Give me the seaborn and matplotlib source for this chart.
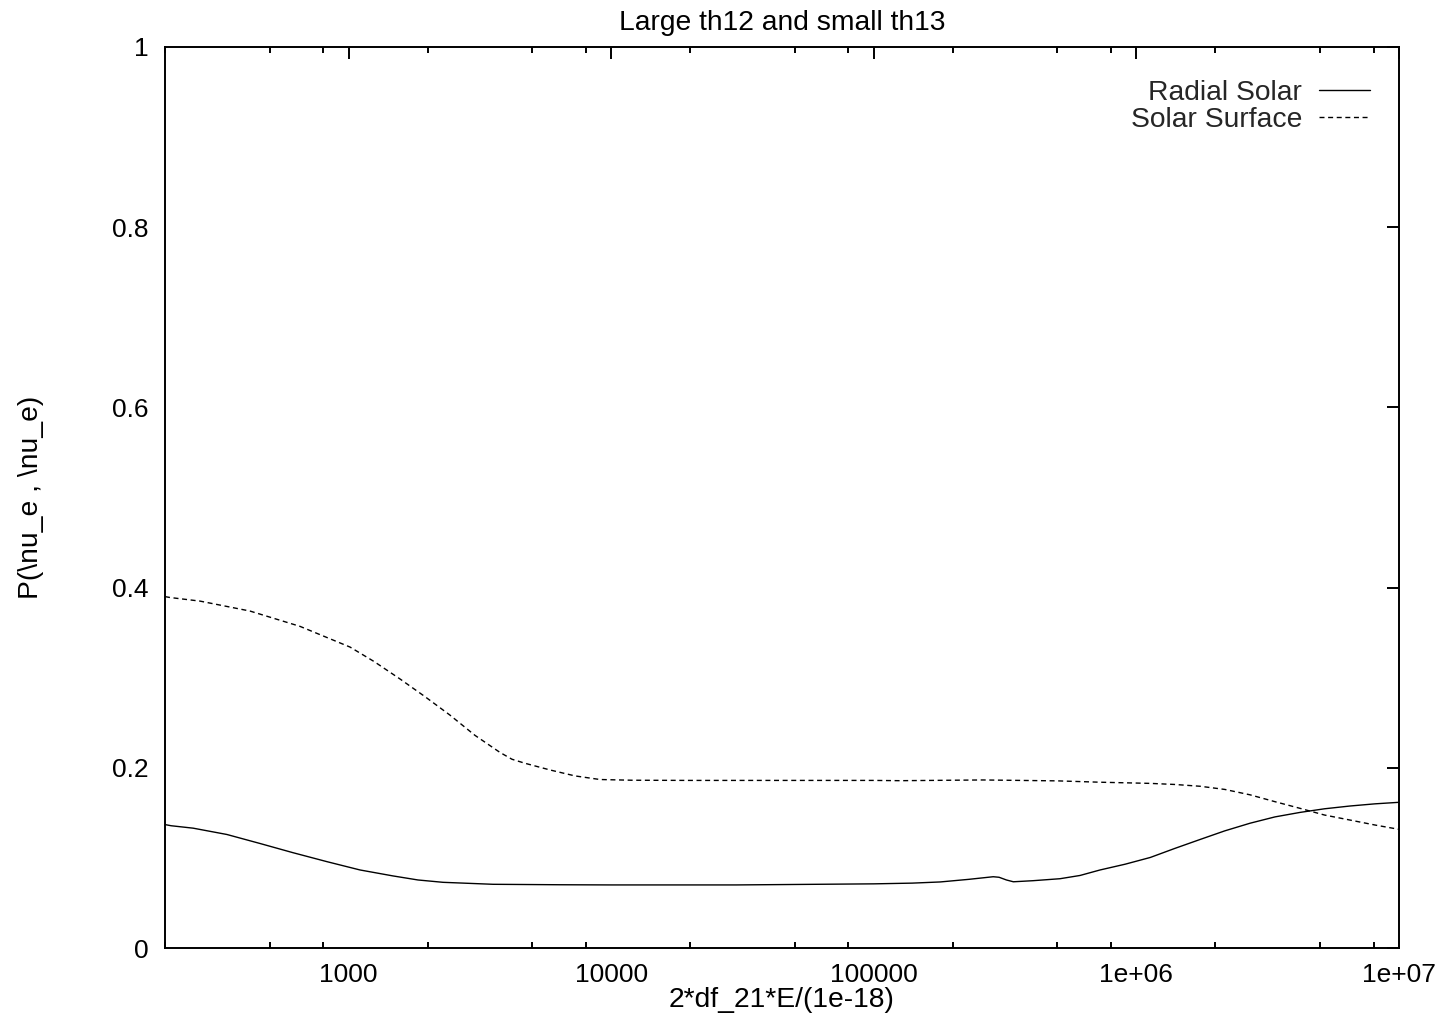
import matplotlib
matplotlib.use("Agg")
import matplotlib.pyplot as plt
import matplotlib.ticker as mticker
import seaborn as sns

# ---- data ----
x_radial = [200, 211, 256, 344, 460, 614, 828, 1000, 1106, 1476, 1838, 2290, 3550,
            6380, 10000, 30000, 100000, 140000, 179000, 230000, 285000, 300000,
            320000, 340000, 404000, 512000, 610000, 727000, 906000, 1130000,
            1400000, 1750000, 2170000, 2710000, 3370000, 4200000, 5200000,
            6510000, 8100000, 10000000]
p_radial = [0.137, 0.1357, 0.133, 0.126, 0.116, 0.1058, 0.0958, 0.0898, 0.0866,
            0.080, 0.0755, 0.0729, 0.0707, 0.0702, 0.0700, 0.0700, 0.0712, 0.0720,
            0.0733, 0.0762, 0.0791, 0.0785, 0.0755, 0.0735, 0.0747, 0.0769, 0.0805,
            0.0866, 0.0930, 0.1005, 0.1105, 0.1205, 0.1300, 0.1385, 0.1455, 0.1505,
            0.1545, 0.1576, 0.160, 0.1617]

x_surface = [200, 209, 272, 421, 653, 1013, 1250, 1570, 1954, 2430, 3030, 3775,
             4190, 4700, 5850, 7280, 9060, 12000, 20000, 100000, 126000, 260000,
             500000, 727000, 1130000, 1400000, 1750000, 2170000, 2710000, 3370000,
             4200000, 5200000, 6510000, 8100000, 10000000]
p_surface = [0.390, 0.389, 0.385, 0.374, 0.357, 0.334, 0.318, 0.2986, 0.279,
             0.2586, 0.236, 0.217, 0.2095, 0.2050, 0.1976, 0.191, 0.187, 0.1862,
             0.186, 0.186, 0.1857, 0.1865, 0.1855, 0.184, 0.1827, 0.1815, 0.1795,
             0.1760, 0.170, 0.1624, 0.155, 0.1476, 0.142, 0.1365, 0.1317]

labels = ["Radial Solar", "Solar Surface"]
title = "Large th12 and small th13"
xlabel = "2*df_21*E/(1e-18)"
ylabel = "P(\\nu_e , \\nu_e)"
xtick_vals = [1000, 10000, 100000, 1000000, 10000000]
xtick_labels = ["1000", "10000", "100000", "1e+06", "1e+07"]
ytick_vals = [0, 0.2, 0.4, 0.6, 0.8, 1]
ytick_labels = ["0", "0.2", "0.4", "0.6", "0.8", "1"]

sns.set_style("white")
plt.rcParams["font.family"] = ["Liberation Sans", "DejaVu Sans"]
plt.rcParams["axes.linewidth"] = 1.4

fig = plt.figure(figsize=(14.53, 10.29), dpi=100)
ax = fig.add_axes([165 / 1453, 81 / 1029, (1399 - 165) / 1453, (948 - 47) / 1029])

FS = 19
FS2 = 20.3
sns.lineplot(x=x_radial, y=p_radial, ax=ax, color="black", lw=1.0, label=labels[0])
sns.lineplot(x=x_surface, y=p_surface, ax=ax, color="black", lw=1.0,
             linestyle=(0, (3.6, 2.6)), label=labels[1])

ax.set_xscale("log")
ax.set_xlim(200, 1e7)
ax.set_ylim(0, 1)

ax.xaxis.set_major_locator(mticker.FixedLocator(xtick_vals))
ax.xaxis.set_major_formatter(mticker.FixedFormatter(xtick_labels))
ax.xaxis.set_minor_locator(mticker.LogLocator(base=10, subs=(2, 5, 8), numticks=20))
ax.xaxis.set_minor_formatter(mticker.NullFormatter())
ax.yaxis.set_major_locator(mticker.FixedLocator(ytick_vals))
ax.yaxis.set_major_formatter(mticker.FixedFormatter(ytick_labels))

ax.tick_params(axis="both", which="major", direction="in", length=8.6, width=1.4,
               top=True, right=True, labelsize=FS, color="black", labelcolor="black")
ax.tick_params(axis="x", which="major", pad=11)
ax.tick_params(axis="y", which="major", pad=12)
ax.tick_params(axis="x", which="minor", direction="in", length=4.2, width=1.4,
               top=True, bottom=True, color="black")
for s in ax.spines.values():
    s.set_color("black")
    s.set_linewidth(1.4)

ax.set_title(title, fontsize=FS2, pad=12, color="black")
ax.set_xlabel(xlabel, fontsize=FS2, labelpad=0, color="black")
ax.set_ylabel(ylabel, fontsize=FS2, labelpad=49, color="black")

leg = ax.legend(loc="upper right", frameon=False, markerfirst=False, fontsize=FS2,
                handlelength=1.8, handletextpad=0.6, labelspacing=0.02,
                borderpad=0, borderaxespad=0,
                bbox_to_anchor=(1 - 29 / 1234, 1 - 33 / 901))
for line in leg.get_lines():
    line.set_linewidth(1.0)

fig.savefig("out.png", dpi=100, facecolor="white")
